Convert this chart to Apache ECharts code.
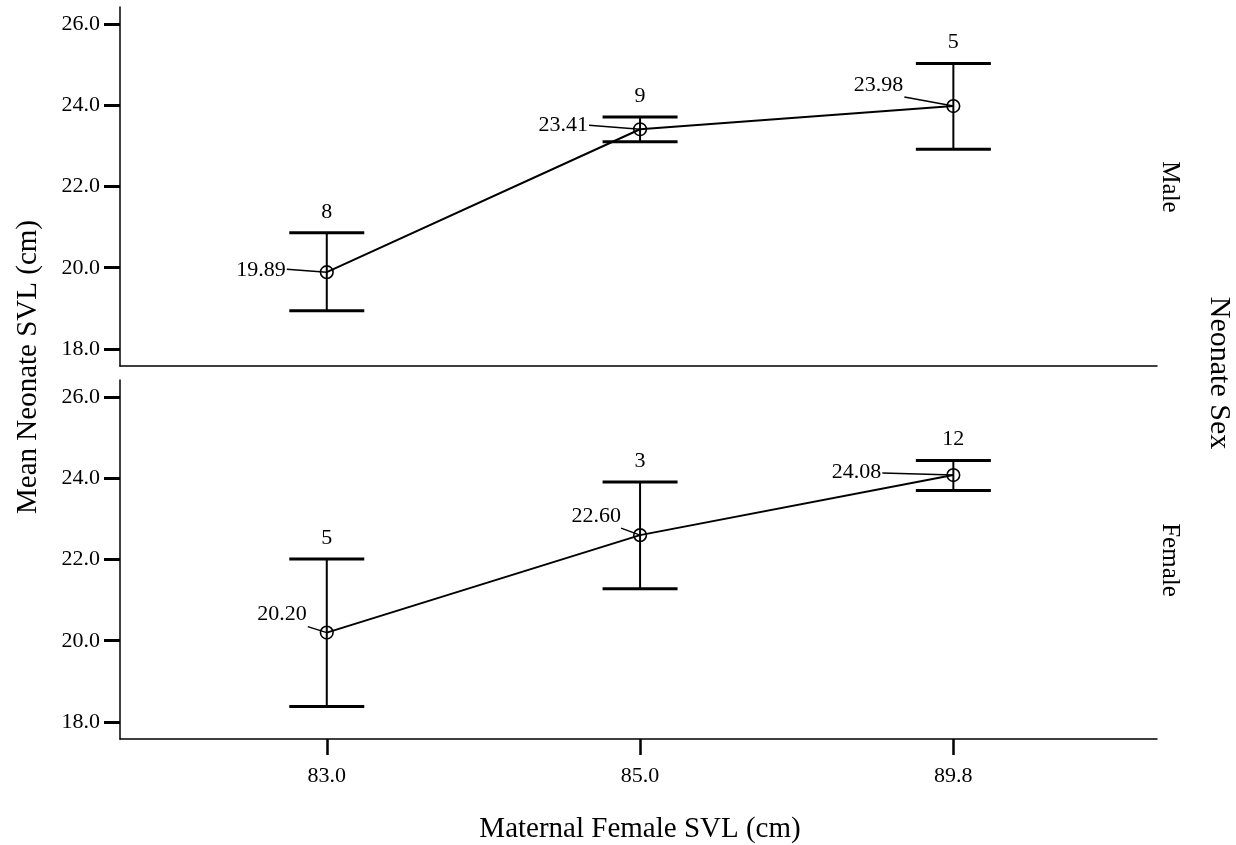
<!DOCTYPE html>
<html>
<head>
<meta charset="utf-8">
<title>Mean Neonate SVL by Maternal Female SVL</title>
<script src="https://cdn.jsdelivr.net/npm/echarts@6/dist/echarts.min.js"></script>
<style>
  html, body { margin: 0; padding: 0; background: #ffffff; }
  #chart { width: 1236px; height: 845px; }
</style>
</head>
<body>
<div id="chart"></div>
<script>
// Maternal female SVL groups (x categories)
const categories = ['83.0', '85.0', '89.8'];

// Male neonates: mean SVL, 95% CI bounds, sample size
const maleMean = [19.89, 23.41, 23.98];
const maleLow = [18.94, 23.10, 22.92];
const maleHigh = [20.86, 23.71, 25.03];
const maleN = [8, 9, 5];

// Female neonates: mean SVL, 95% CI bounds, sample size
const femaleMean = [20.20, 22.60, 24.08];
const femaleLow = [18.38, 21.28, 23.70];
const femaleHigh = [22.01, 23.91, 24.44];
const femaleN = [5, 3, 12];

// Y tick labels shared by both panels
const yTicks = [18, 20, 22, 24, 26];

// Placement of each mean label relative to its point: [dx of text right edge, dy of text centre, leader start dx, leader start dy]
const maleLabelPos = [[-41, -2, -40, -3], [-52, -4, -51, -4], [-50, -21, -49, -9]];
const femaleLabelPos = [[-20, -18, -19, -6], [-19, -19, -19, -7], [-72, -3, -71, -2]];

const FONT = '"Liberation Serif", "Times New Roman", "DejaVu Serif", serif';
const BLACK = '#000000';

function buildRows(mean, low, high, n) {
  return categories.map((c, i) => [i, mean[i], low[i], high[i], n[i]]);
}

function errorBarSeries(gridIdx, rows, labelPos) {
  return {
    type: 'custom',
    xAxisIndex: gridIdx,
    yAxisIndex: gridIdx,
    data: rows,
    z: 5,
    renderItem: function (params, api) {
      const i = params.dataIndex;
      const x = api.value(0);
      const m = api.coord([x, api.value(1)]);
      const lo = api.coord([x, api.value(2)]);
      const hi = api.coord([x, api.value(3)]);
      const capHalf = 37.5;
      const pos = labelPos[i];
      const lineStyle = { stroke: BLACK, lineWidth: 2 };
      const capStyle = { stroke: BLACK, lineWidth: 3 };
      return {
        type: 'group',
        children: [
          { type: 'line', shape: { x1: m[0], y1: hi[1], x2: m[0], y2: lo[1] }, style: lineStyle },
          { type: 'line', shape: { x1: m[0] - capHalf, y1: hi[1], x2: m[0] + capHalf, y2: hi[1] }, style: capStyle },
          { type: 'line', shape: { x1: m[0] - capHalf, y1: lo[1], x2: m[0] + capHalf, y2: lo[1] }, style: capStyle },
          { type: 'circle', shape: { cx: m[0], cy: m[1], r: 6.3 }, style: { fill: 'none', stroke: BLACK, lineWidth: 1.6 } },
          { type: 'line', shape: { x1: m[0] + pos[2], y1: m[1] + pos[3], x2: m[0], y2: m[1] }, style: { stroke: BLACK, lineWidth: 1.5 } },
          {
            type: 'text',
            x: m[0] + pos[0], y: m[1] + pos[1],
            style: { text: api.value(1).toFixed(2), fill: BLACK, font: '22px ' + FONT, align: 'right', verticalAlign: 'middle' }
          },
          {
            type: 'text',
            x: m[0], y: hi[1] - 21,
            style: { text: String(api.value(4)), fill: BLACK, font: '22px ' + FONT, align: 'center', verticalAlign: 'middle' }
          }
        ]
      };
    }
  };
}

function meanLineSeries(gridIdx, mean) {
  return {
    type: 'line',
    xAxisIndex: gridIdx,
    yAxisIndex: gridIdx,
    data: mean.map((v, i) => [i, v]),
    symbol: 'none',
    lineStyle: { color: BLACK, width: 2 },
    z: 3,
    silent: true
  };
}

function yAxisConf(gridIdx) {
  return {
    gridIndex: gridIdx,
    type: 'value',
    min: 17.58,
    max: 26.42,
    axisLine: { show: true, onZero: false, lineStyle: { color: BLACK, width: 1.5 } },
    axisTick: { show: true, customValues: yTicks, length: 16, lineStyle: { color: BLACK, width: 3 } },
    axisLabel: {
      customValues: yTicks,
      formatter: v => Number(v).toFixed(1),
      color: BLACK, fontFamily: FONT, fontSize: 22, margin: 20
    },
    splitLine: { show: false }
  };
}

const chart = echarts.init(document.getElementById('chart'), null, { renderer: 'canvas' });

chart.setOption({
  backgroundColor: '#ffffff',
  animation: false,
  grid: [
    { left: 120, top: 7, width: 1037, height: 359 },
    { left: 120, top: 380, width: 1037, height: 359 }
  ],
  xAxis: [
    {
      gridIndex: 0, type: 'value', min: -0.66, max: 2.65,
      axisLine: { show: true, onZero: false, lineStyle: { color: BLACK, width: 1.5 } },
      axisTick: { show: false }, axisLabel: { show: false }, splitLine: { show: false }
    },
    {
      gridIndex: 1, type: 'value', min: -0.66, max: 2.65,
      axisLine: { show: true, onZero: false, lineStyle: { color: BLACK, width: 1.5 } },
      axisTick: { show: true, customValues: [0, 1, 2], length: 16, lineStyle: { color: BLACK, width: 2.5 } },
      axisLabel: {
        customValues: [0, 1, 2],
        formatter: v => categories[Math.round(v)],
        color: BLACK, fontFamily: FONT, fontSize: 22, margin: 26
      },
      splitLine: { show: false }
    }
  ],
  yAxis: [yAxisConf(0), yAxisConf(1)],
  series: [
    meanLineSeries(0, maleMean),
    errorBarSeries(0, buildRows(maleMean, maleLow, maleHigh, maleN), maleLabelPos),
    meanLineSeries(1, femaleMean),
    errorBarSeries(1, buildRows(femaleMean, femaleLow, femaleHigh, femaleN), femaleLabelPos)
  ],
  graphic: [
    {
      type: 'text', x: 28, y: 367, rotation: Math.PI / 2,
      style: { text: 'Mean Neonate SVL (cm)', fill: BLACK, font: '29px ' + FONT, align: 'center', verticalAlign: 'middle' }
    },
    {
      type: 'text', x: 640, y: 829,
      style: { text: 'Maternal Female SVL (cm)', fill: BLACK, font: '29px ' + FONT, align: 'center', verticalAlign: 'middle' }
    },
    {
      type: 'text', x: 1170, y: 187, rotation: -Math.PI / 2,
      style: { text: 'Male', fill: BLACK, font: '25px ' + FONT, align: 'center', verticalAlign: 'middle' }
    },
    {
      type: 'text', x: 1170, y: 560, rotation: -Math.PI / 2,
      style: { text: 'Female', fill: BLACK, font: '25px ' + FONT, align: 'center', verticalAlign: 'middle' }
    },
    {
      type: 'text', x: 1219, y: 373, rotation: -Math.PI / 2,
      style: { text: 'Neonate Sex', fill: BLACK, font: '30px ' + FONT, align: 'center', verticalAlign: 'middle' }
    }
  ]
});
</script>
</body>
</html>
